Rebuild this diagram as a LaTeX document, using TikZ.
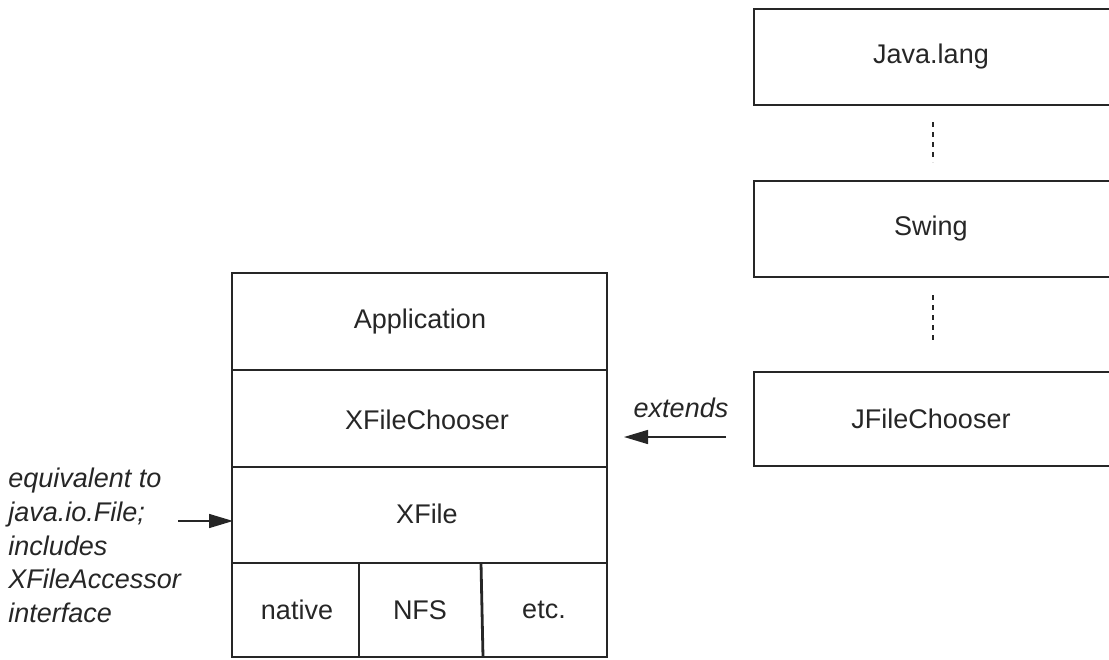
\documentclass[tikz,border=0pt]{standalone}
\usepackage{fontspec}
\setmainfont{Liberation Sans}
\usetikzlibrary{arrows.meta}
\begin{document}
\begin{tikzpicture}[x=0.5pt,y=-0.5pt,
  box/.style={draw=black!85,line width=1.4pt},
  lbl/.style={font=\fontsize{13.5}{16}\selectfont,text=black!85},
  note/.style={font=\fontsize{13.5}{16.8}\selectfont\itshape,text=black!85},
  link/.style={draw=black!85,line width=0.75pt,-{Triangle[length=12pt,width=7pt]}},
  dots/.style={draw=black!85,line width=1.2pt,dash pattern=on 2.6pt off 2.4pt}]
\useasboundingbox (0,0) rectangle (1109,659);
\clip (0,0) rectangle (1109,659);

% library stack on the right (boxes run off the right edge)
\draw[box] (1130,9) -- (754,9) -- (754,105) -- (1130,105);
\draw[box] (1130,181) -- (754,181) -- (754,277) -- (1130,277);
\draw[box] (1130,372) -- (754,372) -- (754,466) -- (1130,466);
\node[lbl] (java) at (931,57) {Java.lang};
\node[lbl] (swing) at (931,229) {Swing};
\node[lbl] (jfc) at (931,419) {JFileChooser};
\coordinate (d1a) at (933,122);
\coordinate (d1b) at (933,162);
\coordinate (d2a) at (933,295);
\coordinate (d2b) at (933,342);
\draw[dots] (d1a) -- (d1b);
\draw[dots] (d2a) -- (d2b);

% application stack on the left
\draw[box] (232,273) rectangle (607,657);
\draw[box] (232,370) -- (607,370);
\draw[box] (232,467) -- (607,467);
\draw[box] (232,563) -- (607,563);
\draw[box] (359,563) -- (359,657);
\draw[box] (481,563) -- (483,657);
\node[lbl] (app) at (420,322) {Application};
\node[lbl] (xfc) at (427,420) {XFileChooser};
\node[lbl] (xf) at (427,514) {XFile};
\node[lbl] (nat) at (297,610) {native};
\node[lbl] (nfs) at (420,610) {NFS};
\node[lbl] (etc) at (544,610) {etc.};

% connectors
\coordinate (ext0) at (726,437);
\coordinate (ext1) at (624,437);
\draw[link] (ext0) -- (ext1);
\node[note] (extl) at (681,408) {extends};
\coordinate (n0) at (178,521);
\coordinate (n1) at (233,521);
\draw[link] (n0) -- (n1);
\node[note,align=left,anchor=north west,inner sep=0] (eq) at (8,468)
  {equivalent to\\java.io.File;\\includes\\XFileAccessor\\interface};
\end{tikzpicture}
\end{document}
